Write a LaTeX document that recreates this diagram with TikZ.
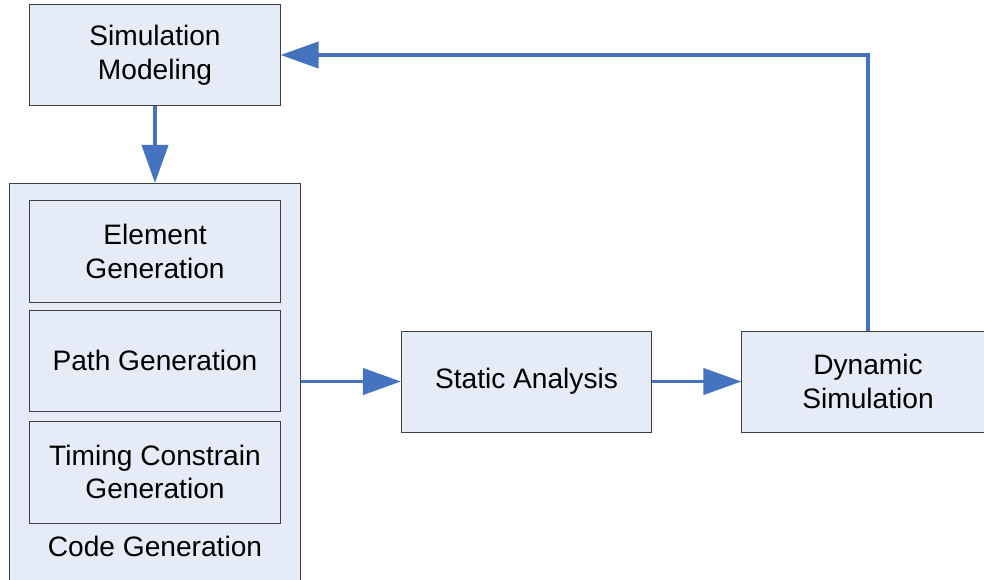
\documentclass[tikz,border=0pt]{standalone}
\usepackage{fontspec}
\setmainfont{Liberation Sans}
\usepackage{xcolor}
\usetikzlibrary{arrows.meta}
\definecolor{boxfill}{RGB}{230,236,247}
\definecolor{boxline}{RGB}{64,64,64}
\definecolor{flowblue}{RGB}{70,115,192}

\begin{document}
\begin{tikzpicture}[x=0.025cm, y=-0.025cm,
    block/.style={draw=boxline, fill=boxfill, line width=0.7pt, align=center,
        inner sep=0pt, minimum width=6.25cm, minimum height=2.525cm,
        font=\fontsize{20}{24}\selectfont},
    flow/.style={draw=flowblue, line width=2.8pt,
        -{Triangle[length=0.95cm,width=0.65cm]}}]
            \clip (0,0) rectangle (984,579);
            \useasboundingbox (0,0) rectangle (984,579);
            \node[block, minimum height=2.5cm] at (155, 55)     (model) {Simulation\\Modeling};
            \node[block, minimum width=7.25cm, minimum height=10.425cm,
                anchor=north] at (155, 183)                      (codegen) {};
            \node[block] at (155, 251.5)  (elem) {Element\\Generation};
            \node[block] at (155, 360.5)  (path) {Path Generation};
            \node[block, minimum height=2.55cm] at (155, 472)   (timing) {Timing Constrain\\Generation};
            \node[font=\fontsize{20}{24}\selectfont] at (155, 546) (cglabel) {Code Generation};
            \node[block] at (526.5, 381.5) (static) {Static Analysis};
            \node[block, minimum width=6.3cm] at (868, 381.5) (dynamic) {Dynamic\\Simulation};

            \draw[flow] (model.south) -- (codegen.north);
            \draw[flow] (codegen.east |- static.west) -- (static.west);
            \draw[flow] (static.east) -- (dynamic.west);
            \draw[flow] (dynamic.north) |- (model.east);
        \end{tikzpicture}
\end{document}
